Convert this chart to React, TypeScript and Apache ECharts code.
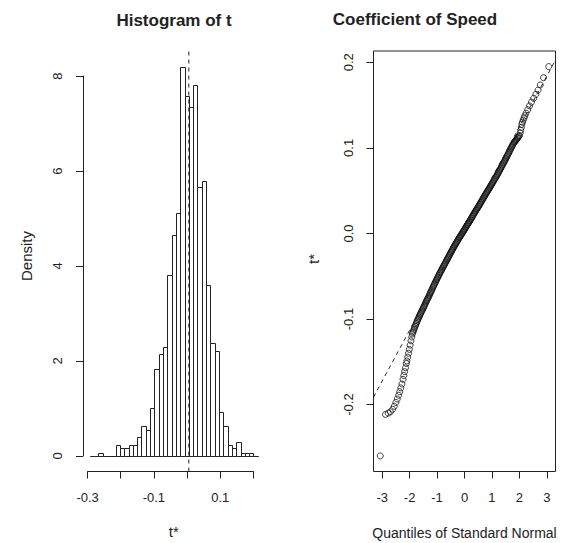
import React, { useEffect, useRef } from 'react';
import * as echarts from 'echarts';

// ---------- Histogram of t* ----------
const t0 = 0.0054; // observed statistic (dashed vertical line)
const binWidth = 0.013; // histogram bin width
const firstBreakStep = -23; // breaks are t0 + k * binWidth, k = -23 .. 16
const histDensity = [
  0, 0, 0.07, 0, 0, 0, 0.23, 0.16, 0.16, 0.23, 0.23, 0.39, 0.62, 0.55, 1.0, 1.83,
  2.14, 2.3, 3.82, 4.66, 5.12, 8.2, 7.59, 7.34, 7.81, 5.66, 5.8, 3.59, 2.37, 2.21,
  0.92, 0.62, 0.23, 0.16, 0.3, 0.07, 0.07, 0.07, 0,
];
const histXTicks = [-0.3, -0.2, -0.1, 0, 0.1, 0.2];
const histXLabels = ['-0.3', '-0.1', '0.1'];
const histYTicks = [0, 2, 4, 6, 8];

// ---------- Normal Q-Q plot ----------
// lower tail: [quantile of standard normal, t*]
const qqLowerTail: [number, number][] = [
  [-3.07, -0.26], [-2.88, -0.2115], [-2.78, -0.21], [-2.7, -0.2085], [-2.62, -0.2055],
  [-2.56, -0.202], [-2.5, -0.1975], [-2.45, -0.1935], [-2.4, -0.189], [-2.36, -0.185],
  [-2.32, -0.1805], [-2.28, -0.176], [-2.24, -0.1705], [-2.21, -0.166], [-2.18, -0.1615],
  [-2.15, -0.157], [-2.12, -0.152], [-2.1, -0.149], [-2.07, -0.1445], [-2.04, -0.14],
  [-2.01, -0.1355], [-1.98, -0.1305], [-1.95, -0.1255], [-1.92, -0.121],
];
// central body of the Q-Q plot
const qqBody: [number, number][] = [
  [-1.9, -0.1175], [-1.88, -0.1157], [-1.86, -0.1139], [-1.84, -0.1121], [-1.82, -0.1103],
  [-1.8, -0.1085], [-1.78, -0.1069], [-1.76, -0.1053], [-1.74, -0.1037], [-1.72, -0.1021],
  [-1.7, -0.1005], [-1.68, -0.0991], [-1.66, -0.0977], [-1.64, -0.0963], [-1.62, -0.0949],
  [-1.6, -0.0935], [-1.58, -0.0922], [-1.56, -0.0909], [-1.54, -0.0896], [-1.52, -0.0883],
  [-1.5, -0.087], [-1.48, -0.0856], [-1.46, -0.0842], [-1.44, -0.0828], [-1.42, -0.0814],
  [-1.4, -0.08], [-1.38, -0.0787], [-1.36, -0.0774], [-1.34, -0.0761], [-1.32, -0.0748],
  [-1.3, -0.0735], [-1.28, -0.0721], [-1.26, -0.0707], [-1.24, -0.0693], [-1.22, -0.0679],
  [-1.2, -0.0665], [-1.18, -0.0651], [-1.16, -0.0637], [-1.14, -0.0623], [-1.12, -0.0609],
  [-1.1, -0.0595], [-1.08, -0.0582], [-1.06, -0.0569], [-1.04, -0.0556], [-1.02, -0.0543],
  [-1.0, -0.053], [-0.98, -0.0517], [-0.96, -0.0504], [-0.94, -0.0491], [-0.92, -0.0478],
  [-0.9, -0.0465], [-0.88, -0.0453], [-0.86, -0.0441], [-0.84, -0.0429], [-0.82, -0.0417],
  [-0.8, -0.0405], [-0.78, -0.0393], [-0.76, -0.0381], [-0.74, -0.0369], [-0.72, -0.0357],
  [-0.7, -0.0345], [-0.68, -0.0333], [-0.66, -0.0321], [-0.64, -0.0309], [-0.62, -0.0297],
  [-0.6, -0.0285], [-0.58, -0.0273], [-0.56, -0.0261], [-0.54, -0.0249], [-0.52, -0.0237],
  [-0.5, -0.0225], [-0.48, -0.0213], [-0.46, -0.0201], [-0.44, -0.0189], [-0.42, -0.0177],
  [-0.4, -0.0165], [-0.38, -0.0154], [-0.36, -0.0143], [-0.34, -0.0132], [-0.32, -0.0121],
  [-0.3, -0.011], [-0.28, -0.0099], [-0.26, -0.0088], [-0.24, -0.0077], [-0.22, -0.0066],
  [-0.2, -0.0055], [-0.18, -0.0045], [-0.16, -0.0035], [-0.14, -0.0025], [-0.12, -0.0015],
  [-0.1, -0.0005], [-0.08, 0.0005], [-0.06, 0.0015], [-0.04, 0.0025], [-0.02, 0.0035],
  [0.0, 0.0045], [0.02, 0.0056], [0.04, 0.0067], [0.06, 0.0078], [0.08, 0.0089],
  [0.1, 0.01], [0.12, 0.011], [0.14, 0.012], [0.16, 0.013], [0.18, 0.014],
  [0.2, 0.015], [0.22, 0.0161], [0.24, 0.0172], [0.26, 0.0183], [0.28, 0.0194],
  [0.3, 0.0205], [0.32, 0.0216], [0.34, 0.0227], [0.36, 0.0238], [0.38, 0.0249],
  [0.4, 0.026], [0.42, 0.027], [0.44, 0.028], [0.46, 0.029], [0.48, 0.03],
  [0.5, 0.031], [0.52, 0.0321], [0.54, 0.0332], [0.56, 0.0343], [0.58, 0.0354],
  [0.6, 0.0365], [0.62, 0.0376], [0.64, 0.0387], [0.66, 0.0398], [0.68, 0.0409],
  [0.7, 0.042], [0.72, 0.0431], [0.74, 0.0442], [0.76, 0.0453], [0.78, 0.0464],
  [0.8, 0.0475], [0.82, 0.0485], [0.84, 0.0495], [0.86, 0.0505], [0.88, 0.0515],
  [0.9, 0.0525], [0.92, 0.0536], [0.94, 0.0547], [0.96, 0.0558], [0.98, 0.0569],
  [1.0, 0.058], [1.02, 0.0591], [1.04, 0.0602], [1.06, 0.0613], [1.08, 0.0624],
  [1.1, 0.0635], [1.12, 0.0646], [1.14, 0.0657], [1.16, 0.0668], [1.18, 0.0679],
  [1.2, 0.069], [1.22, 0.0702], [1.24, 0.0714], [1.26, 0.0726], [1.28, 0.0738],
  [1.3, 0.075], [1.32, 0.0762], [1.34, 0.0774], [1.36, 0.0786], [1.38, 0.0798],
  [1.4, 0.081], [1.42, 0.0822], [1.44, 0.0834], [1.46, 0.0846], [1.48, 0.0858],
  [1.5, 0.087], [1.52, 0.0883], [1.54, 0.0896], [1.56, 0.0909], [1.58, 0.0922],
  [1.6, 0.0935], [1.62, 0.0948], [1.64, 0.0961], [1.66, 0.0974], [1.68, 0.0987],
  [1.7, 0.1], [1.72, 0.1012], [1.74, 0.1024], [1.76, 0.1036], [1.78, 0.1048],
  [1.8, 0.106], [1.82, 0.1068], [1.84, 0.1076], [1.86, 0.1084], [1.88, 0.1092],
  [1.9, 0.11], [1.92, 0.1109], [1.94, 0.1118], [1.96, 0.1127], [1.98, 0.1136],
  [2.0, 0.1145],
];
// upper tail
const qqUpperTail: [number, number][] = [
  [2.03, 0.1175], [2.05, 0.1205], [2.07, 0.124], [2.09, 0.1275], [2.11, 0.13],
  [2.14, 0.1325], [2.17, 0.135], [2.2, 0.1375], [2.24, 0.1405], [2.3, 0.1445],
  [2.37, 0.149], [2.44, 0.1535], [2.52, 0.158], [2.6, 0.1625], [2.68, 0.1675],
  [2.76, 0.1735], [2.88, 0.182], [3.07, 0.195],
];
const qqLineIntercept = 0.0057; // mean of t*
const qqLineSlope = 0.0594; // sd of t*
const qqXTicks = [-3, -2, -1, 0, 1, 2, 3];
const qqYTicks = [-0.2, -0.1, 0, 0.1, 0.2];

const FONT = '"Liberation Sans", Arial, Helvetica, sans-serif';
const INK = '#222';

export default function App() {
  const ref = useRef<HTMLDivElement>(null);

  useEffect(() => {
    if (!ref.current) return;
    const chart = echarts.init(ref.current, undefined, { renderer: 'svg' });

    const qqPoints = [...qqLowerTail, ...qqBody, ...qqUpperTail];

    // ----- layout -----
    const plotTop = 51;
    const plotH = 420.5;
    const hL = 83;
    const hW = 181.5;
    const qL = 373.5;
    const qW = 182;

    // histogram ranges (R style: 4% extension)
    const breaks = histDensity.map((_, i) => t0 + (firstBreakStep + i) * binWidth);
    breaks.push(t0 + (firstBreakStep + histDensity.length) * binWidth);
    const bMin = breaks[0];
    const bMax = breaks[breaks.length - 1];
    const hxlo = bMin - 0.04 * (bMax - bMin);
    const hxhi = bMax + 0.04 * (bMax - bMin);
    const dMax = Math.max(...histDensity);
    const hylo = -0.04 * dMax;
    const hyhi = dMax * 1.04;
    const hx = (v: number) => hL + ((v - hxlo) / (hxhi - hxlo)) * hW;
    const hy = (v: number) => plotTop + ((hyhi - v) / (hyhi - hylo)) * plotH;

    // qq ranges
    const qs = qqPoints.map((p) => p[0]);
    const ts = qqPoints.map((p) => p[1]);
    const qMin = Math.min(...qs);
    const qMax = Math.max(...qs);
    const tMin = Math.min(...ts);
    const tMax = Math.max(...ts);
    const qxlo = qMin - 0.04 * (qMax - qMin);
    const qxhi = qMax + 0.04 * (qMax - qMin);
    const qylo = tMin - 0.04 * (tMax - tMin);
    const qyhi = tMax + 0.04 * (tMax - tMin);
    const qx = (v: number) => qL + ((v - qxlo) / (qxhi - qxlo)) * qW;
    const qy = (v: number) => plotTop + ((qyhi - v) / (qyhi - qylo)) * plotH;

    const histData = histDensity.map((d, i) => [breaks[i], breaks[i + 1], d]);

    const fmt1 = (v: number) => (Math.round(v * 10) / 10).toFixed(1);

    const hiddenAxis = (gridIndex: number, min: number, max: number) => ({
      gridIndex,
      type: 'value',
      min,
      max,
      show: false,
      splitLine: { show: false },
    });

    const tickAxisCommon = {
      type: 'value',
      splitLine: { show: false },
      axisTick: { show: true, length: 7, lineStyle: { color: INK, width: 1 } },
    };

    const centerText = (text: string, x: number, y: number, font: string, rotation = 0) => ({
      type: 'text',
      x,
      y,
      rotation,
      style: { text, font, fill: INK, align: 'center', verticalAlign: 'middle', textAlign: 'center', textVerticalAlign: 'middle' },
    });

    const option: any = {
      animation: false,
      backgroundColor: '#fff',
      textStyle: { fontFamily: FONT },
      grid: [
        { left: hL, top: plotTop, width: hW, height: plotH },
        { left: hx(histXTicks[0]), top: plotTop, width: hx(histXTicks[histXTicks.length - 1]) - hx(histXTicks[0]), height: plotH },
        { left: hL, top: hy(histYTicks[histYTicks.length - 1]), width: hW, height: hy(histYTicks[0]) - hy(histYTicks[histYTicks.length - 1]) },
        { left: qL, top: plotTop, width: qW, height: plotH, show: true, borderColor: INK, borderWidth: 1, backgroundColor: 'transparent' },
        { left: qx(qqXTicks[0]), top: plotTop, width: qx(qqXTicks[qqXTicks.length - 1]) - qx(qqXTicks[0]), height: plotH },
        { left: qL, top: qy(qqYTicks[qqYTicks.length - 1]), width: qW, height: qy(qqYTicks[0]) - qy(qqYTicks[qqYTicks.length - 1]) },
      ],
      xAxis: [
        hiddenAxis(0, hxlo, hxhi),
        {
          ...tickAxisCommon,
          gridIndex: 1,
          min: histXTicks[0],
          max: histXTicks[histXTicks.length - 1],
          interval: 0.1,
          position: 'bottom',
          axisLine: { show: true, lineStyle: { color: INK, width: 1 } },
          axisLabel: {
            margin: 19,
            fontSize: 13,
            color: INK,
            fontFamily: FONT,
            formatter: (v: number) => (histXLabels.includes(fmt1(v)) ? fmt1(v) : ''),
          },
        },
        hiddenAxis(2, 0, 1),
        hiddenAxis(3, qxlo, qxhi),
        {
          ...tickAxisCommon,
          gridIndex: 4,
          min: qqXTicks[0],
          max: qqXTicks[qqXTicks.length - 1],
          interval: 1,
          position: 'bottom',
          axisLine: { show: false },
          axisLabel: { margin: 19, fontSize: 13, color: INK, fontFamily: FONT, formatter: (v: number) => String(Math.round(v)) },
        },
        hiddenAxis(5, 0, 1),
      ],
      yAxis: [
        hiddenAxis(0, hylo, hyhi),
        hiddenAxis(1, 0, 1),
        {
          ...tickAxisCommon,
          gridIndex: 2,
          min: histYTicks[0],
          max: histYTicks[histYTicks.length - 1],
          interval: 2,
          position: 'left',
          axisLine: { show: true, lineStyle: { color: INK, width: 1 } },
          axisLabel: { margin: 19, fontSize: 13, color: INK, fontFamily: FONT, rotate: 90 },
        },
        hiddenAxis(3, qylo, qyhi),
        hiddenAxis(4, 0, 1),
        {
          ...tickAxisCommon,
          gridIndex: 5,
          min: qqYTicks[0],
          max: qqYTicks[qqYTicks.length - 1],
          interval: 0.1,
          position: 'left',
          axisLine: { show: false },
          axisLabel: { margin: 19, fontSize: 13, color: INK, fontFamily: FONT, rotate: 90, formatter: (v: number) => fmt1(v) },
        },
      ],
      series: [
        {
          type: 'custom',
          xAxisIndex: 0,
          yAxisIndex: 0,
          silent: true,
          data: histData,
          encode: { x: [0, 1], y: 2 },
          renderItem: (_params: any, api: any) => {
            const p0 = api.coord([api.value(0), 0]);
            const p1 = api.coord([api.value(1), api.value(2)]);
            const x0 = Math.round(p0[0]) + 0.5;
            const x1 = Math.round(p1[0]) + 0.5;
            const yb = Math.round(p0[1]) + 0.5;
            const yt = Math.round(p1[1]) + 0.5;
            return {
              type: 'rect',
              shape: { x: x0, y: yt, width: x1 - x0, height: yb - yt },
              style: { fill: '#fff', stroke: INK, lineWidth: 1 },
            };
          },
        },
        {
          type: 'line',
          xAxisIndex: 0,
          yAxisIndex: 0,
          silent: true,
          showSymbol: false,
          data: [
            [t0, hylo],
            [t0, hyhi],
          ],
          lineStyle: { color: INK, width: 1, type: [4, 4] },
        },
        {
          type: 'line',
          xAxisIndex: 3,
          yAxisIndex: 3,
          silent: true,
          showSymbol: false,
          data: [
            [qxlo, qqLineIntercept + qqLineSlope * qxlo],
            [qxhi, qqLineIntercept + qqLineSlope * qxhi],
          ],
          lineStyle: { color: INK, width: 1, type: [4, 4] },
        },
        {
          type: 'scatter',
          xAxisIndex: 3,
          yAxisIndex: 3,
          silent: true,
          data: qqPoints,
          symbol: 'circle',
          symbolSize: 6,
          itemStyle: { color: 'rgba(0,0,0,0)', borderColor: '#111', borderWidth: 1 },
        },
      ],
      graphic: [
        centerText('Histogram of t', 174, 20, `bold 17px ${FONT}`),
        centerText('Coefficient of Speed', 415, 19, `bold 17px ${FONT}`),
        centerText('t*', hL + hW / 2, 531, `15px ${FONT}`),
        centerText('Density', 26, 256, `15px ${FONT}`, Math.PI / 2),
        centerText('t*', 313, 259, `15px ${FONT}`, Math.PI / 2),
        centerText('Quantiles of Standard Normal', qL + qW / 2, 533, `14px ${FONT}`),
      ],
    };

    chart.setOption(option);
    return () => chart.dispose();
  }, []);

  return <div ref={ref} style={{ position: 'absolute', left: 0, top: 0, width: 561, height: 543, background: '#fff' }} />;
}
